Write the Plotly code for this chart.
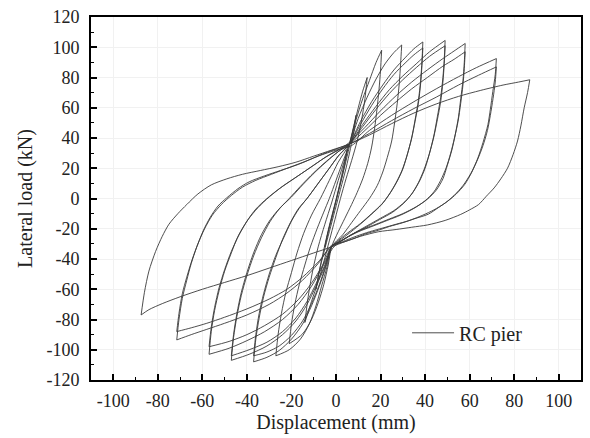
import plotly.graph_objects as go

# ---- data: hysteresis loops (displacement mm, lateral load kN) ----
loop87_x = [-87.5,-86,-84,-81,-78,-75,-71,-67,-62,-56,-49,-42,-34,-26,-18,-10,-2,6,15,25,35,45,55,65,75,82,87,
            86,84.5,83,81.5,79.5,77,74,71,67.5,64,60,56,49,41,34,27,19,11,4,-2,-10,-20,-30,-40,-50,-60,-70,-78,-84,-87.5]
loop87_y = [-77,-62,-48,-35,-25,-17,-10,-4,3,9,13,16,18.5,21,24,28,32,36,42,49.5,56.5,62.5,67.5,71.5,75,77,78.5,
            70,60,48,38,29,20,13,7,1.5,-4,-7.5,-10.5,-14.5,-17.5,-19,-20.5,-22,-25,-28.5,-32,-36,-41,-46,-51,-55.5,-60,-65,-69.5,-73.5,-77]

loop72a_x = [-71.5,-70.5,-69,-67,-65,-62.5,-59.5,-56.5,-53,-49,-44,-39,-32,-25,-17,-8,0,7,15,25,35,45,55,63,72,
             71.5,70.4,69.3,68.2,66,63.7,61,57.8,54,50.3,46,41.4,35,30,24,19,13,8,3,-2,-8,-15,-22,-30,-40,-50,-58,-65,-71.5]
loop72a_y = [-93.5,-80,-66,-54,-43,-32,-21,-12.5,-5,0.5,6.5,11,15,18.5,22.5,28,32,35,45,55,64,72.5,80.5,86.5,92.5,
             82,70.7,59,48.8,37,26.8,17.5,9.3,3,-1.6,-6,-10.4,-13.5,-16,-18.5,-21,-23.5,-26.5,-29,-31,-43,-54,-62.5,-70,-77,-82.5,-86.5,-90,-93.5]

loop72b_x = [-71.5,-70.5,-69,-67,-64.5,-62,-59,-55.5,-51.5,-47,-42,-36,-29,-21,-13,-5,6,15,25,35,45,55,64,72,
             71.5,70.5,69.3,68,66,63.5,60.5,57,53,49,44,39,33,27,21,15,9,3,-2,-8,-15,-22,-30,-40,-50,-58,-65,-71.5]
loop72b_y = [-88,-76,-63,-52,-40,-30,-20,-11,-4,2,7.5,12,16,20.5,25,30,36,43,51.5,59.5,67,75,81.5,87,
             77,66,55,45,35,25.5,16.5,8.5,2,-3,-7.5,-11,-14.5,-17,-19.5,-22,-25,-28.5,-32,-42,-52,-60,-66.5,-73,-78.5,-82.5,-85.5,-88]

loop58a_x = [-57,-56,-54.5,-52.5,-50,-47,-44,-40,-36,-31,-25,-19,-12,-5,1,6,13,20,27,34,41,48,53,58,
             57.6,57,56,55,53.5,52,50,48,45,41,36,30,24,18,11,5,-1,-6,-11,-17,-24,-32,-40,-48,-57]
loop58a_y = [-103,-88,-74,-61,-48,-36,-25,-15,-7,0,7,13,20,27,32,37,47,58,68,77,85,92.5,97.5,102.5,
             90,78,66,54,42,32,22,13,5.5,-0.5,-5.5,-10,-13.5,-17,-21,-25.5,-32,-45,-58,-70,-80,-88,-94,-99,-103]

loop58b_x = [-57,-56,-54.5,-52.5,-50,-47,-43.5,-39.5,-35,-30,-24,-17,-10,-3,6,13,20,27,34,41,48,53,58,
             57.6,57,56,54.8,53.2,51.5,49.5,47,44,40,35,29,23,17,10,4,-2,-6,-11,-17,-24,-32,-40,-48,-57]
loop58b_y = [-98,-85,-72,-59,-47,-35,-24,-14,-6,1,8,15,22,29,36,45,55,64,72.5,80,87.5,92,97,
             86,75,63,51,40,30,20.5,12,4.5,-1.5,-6.5,-11,-14.5,-18,-22,-26.5,-32,-44,-56,-67,-76.5,-84,-90,-94.5,-98]

loop49_x = [-47,-46,-44.5,-42.5,-40,-37,-33.5,-29.5,-25.5,-21,-16,-10,-4,1,6,12,18,24,30,36,42,49,
            48.6,48,47,45.5,44,42,40,37.5,34.5,31,26,20,14,8,3,-2,-5,-9,-13,-18,-24,-31,-39,-47]
loop49_y = [-107,-92,-78,-64,-51,-38,-26,-15,-7,0,8,17,25,31,36,49,61,72,81,89,97,104.5,
            92,80,67,54,42,30,20,11.5,4,-2,-8,-13,-18,-23,-27.5,-32,-45,-58,-70,-81,-90,-97.5,-103,-107]

loop49b_x = [-47,-46,-44.5,-42.5,-40,-37,-33.5,-29.5,-25,-20,-15,-9,-3,1.5,6,12,18,24,30,36,42,49,
             48.6,48,47,45.5,43.8,41.8,39.5,37,34,30.5,25.5,19.5,13.5,7.5,2.5,-2,-5,-9,-13,-18,-24,-31,-39,-47]
loop49b_y = [-104,-90,-76,-62,-49,-36,-24,-14,-6,1,9,18,26,31.5,36,47.5,59,69.5,78.5,86.5,94,101,
             89,77,64,52,40,29,19,10.5,3,-3,-9,-14,-19,-23.5,-28,-32,-44,-56.5,-68,-79,-88,-95,-100,-104]

loop39_x = [-37,-36,-34.5,-32.5,-30,-27,-24,-20.5,-17,-13,-8,-3,1,6,11,16,21,26,31,35,39,
            38.6,38,37,35.5,34,32,30,27.5,24.5,21,16,11,5,0,-2,-4.5,-7.5,-11,-15,-20,-25.5,-31,-37]
loop39_y = [-108,-93,-79,-65,-52,-39,-27,-16,-7,0,10,20,28,36,51,64,75,85,93,99,103.5,
            91,78,65,52,40,29,19.5,11.5,4,-3,-10,-16.5,-23,-29,-32,-45,-58,-71,-83,-93,-100.5,-105,-108]

loop39b_x = [-37,-36,-34.5,-32.5,-30,-27,-23.5,-20,-16.5,-12.5,-7.5,-2.5,1.5,6,11,16,21,26,31,35,39,
             38.6,38,37,35.5,33.8,31.8,29.6,27,24,20.5,15.5,10.5,5,0,-2,-4.5,-7.5,-11,-15,-20,-25.5,-31,-37]
loop39b_y = [-104,-90,-76,-63,-50,-37.5,-26,-15,-6.5,1,11,21,29,36,49,61.5,72.5,82,89.5,95,99.5,
             88,76,63,51,39,28,18.5,10.5,3,-4,-11,-17.5,-24,-29.5,-32,-44,-57,-69.5,-81,-90.5,-97.5,-101.5,-104]

loop29_x = [-27,-26,-24.5,-22.5,-20,-17.5,-14.5,-11,-7,-3,1,6,10,14,18,22,26,29.5,
            29,28.4,27.5,26.3,25,23,21,18.5,15,11,7,3,-2,-4,-6.5,-9,-12,-16,-21,-27]
loop29_y = [-104,-90,-76,-62,-49,-36,-23,-11,0,12,24,36,53,67,79,89,96.5,101.5,
            89,76,63,50,38,27,17.5,8.5,0,-8,-16,-24,-32,-45,-58,-71,-83,-93,-100,-104]

loop20_x = [-21,-20,-18.5,-16.5,-14,-11.5,-8.5,-5.5,-3,0,3,6,9,12,15,18,20.5,
            20,19.3,18.4,17.3,16,14.2,12,9.5,7,4,1,-2,-3.5,-5.5,-8,-11,-15,-21]
loop20_y = [-96,-83,-70,-57,-44,-32,-20,-9,0,12,24,36,52,66,78,90,98,
            85,72,59,46,34,23,13,4,-4,-13,-22,-32,-44,-57,-69,-80,-89.5,-96]

loop14_x = [-14,-12.5,-10.5,-8,-5,-2,1,4,6,8,10,12,14,
            13,11.5,9.5,7,4.5,2,-0.5,-3,-5.5,-8,-11,-14]
loop14_y = [-82,-65,-48,-32,-17,-3,12,26,36,48,60,71,80,
            66,52,38,25,13,0,-14,-28,-42,-55,-68,-82]

loop9_x = [-9,-7.5,-5.5,-3,0,3,5.5,7.5,9,
           8,6.5,4.5,2,-0.5,-3,-5.5,-7.5,-9]
loop9_y = [-60,-48,-34,-18,-1,16,31,44,55,
           44,33,20,6,-8,-22,-36,-48,-60]

loop5_x = [-5,-3.5,-1.5,0.5,2.5,4,5,
           4,2.5,0.5,-1.5,-3.5,-5]
loop5_y = [-32,-22,-10,2,15,25,32,
           23,13,1,-11,-22,-32]

x_ticks = [-100, -80, -60, -40, -20, 0, 20, 40, 60, 80, 100]
x_tick_labels = ["-100", "-80", "-60", "-40", "-20", "0", "20", "40", "60", "80", "100"]
y_ticks = [-120, -100, -80, -60, -40, -20, 0, 20, 40, 60, 80, 100, 120]
y_tick_labels = ["-120", "-100", "-80", "-60", "-40", "-20", "0", "20", "40", "60", "80", "100", "120"]
series_name = "RC pier"

loops = [(loop5_x, loop5_y), (loop9_x, loop9_y), (loop14_x, loop14_y),
         (loop20_x, loop20_y), (loop29_x, loop29_y), (loop39_x, loop39_y),
         (loop39b_x, loop39b_y), (loop49_x, loop49_y), (loop49b_x, loop49b_y),
         (loop58a_x, loop58a_y), (loop58b_x, loop58b_y),
         (loop72a_x, loop72a_y), (loop72b_x, loop72b_y), (loop87_x, loop87_y)]

FONT = "Liberation Serif, Times New Roman, serif"
LINE = dict(color="#3a3a3a", width=0.9, shape="spline", smoothing=0.8)

fig = go.Figure()
first = True
for lx, ly in loops:
    k = lx.index(max(lx))
    for seg_x, seg_y in ((lx[:k + 1], ly[:k + 1]), (lx[k:], ly[k:])):
        fig.add_trace(go.Scatter(x=seg_x, y=seg_y, mode="lines", line=LINE,
                                 name=series_name, showlegend=first, hoverinfo="skip"))
        first = False

axis_common = dict(
    showline=True, linewidth=2, linecolor="black", mirror=True,
    ticks="inside", ticklen=6, tickwidth=1.5, tickcolor="black",
    showgrid=True, gridcolor="#f1f1f1", gridwidth=1, zeroline=False,
    tickfont=dict(family=FONT, size=18, color="#222"),
)

fig.update_layout(
    width=590, height=438,
    margin=dict(l=91, r=7, t=15, b=58),
    paper_bgcolor="white", plot_bgcolor="white",
    xaxis=dict(range=[-110, 110], tickvals=x_ticks, ticktext=x_tick_labels,
               minor=dict(dtick=10, tick0=0, ticks="inside", ticklen=3, tickwidth=1.2,
                          tickcolor="black", showgrid=False),
               title=dict(text="Displacement (mm)", font=dict(family=FONT, size=20, color="#222"), standoff=3),
               ticklabelstandoff=3,
               **axis_common),
    yaxis=dict(range=[-120, 120], tickvals=y_ticks, ticktext=y_tick_labels,
               minor=dict(dtick=10, tick0=0, ticks="inside", ticklen=3, tickwidth=1.2,
                          tickcolor="black", showgrid=False),
               title=dict(text="Lateral load (kN)", font=dict(family=FONT, size=20, color="#222"), standoff=8),
               ticklabelstandoff=6,
               **axis_common),
    legend=dict(x=0.645, y=0.13, xanchor="left", yanchor="middle",
                bgcolor="rgba(0,0,0,0)", font=dict(family=FONT, size=20, color="#222"),
                itemwidth=42),
    showlegend=True,
)

fig.write_html("out.html")
